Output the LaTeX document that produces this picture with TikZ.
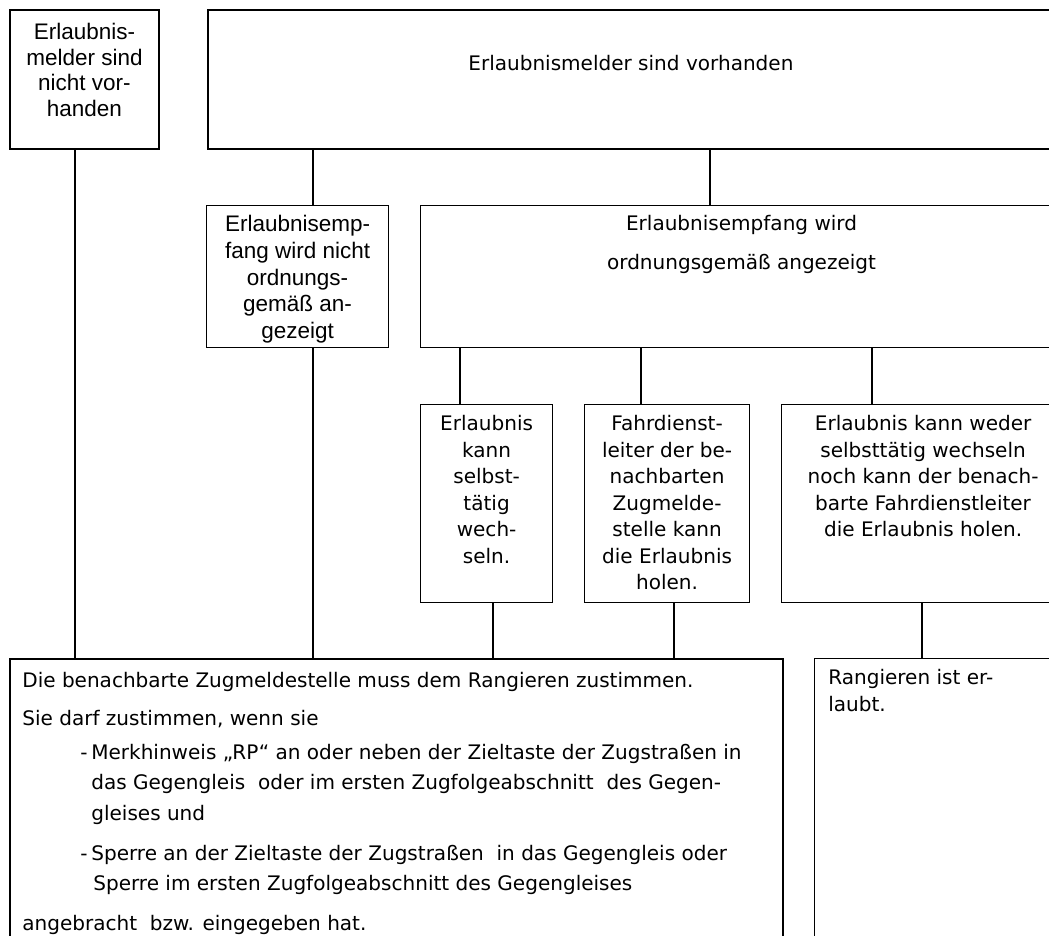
\documentclass[tikz,border=0pt]{standalone}
\usepackage{fontspec}
\setmainfont{DejaVu Sans}
\newfontfamily\arialfont{Liberation Sans}
\usepackage{tikz}
\usetikzlibrary{positioning}

\tikzset{
  box/.style={draw, anchor=north west, inner sep=0pt, line width=0.7pt},
  heavybox/.style={box, line width=1.1pt},
  boxtext/.style={inner sep=0pt, align=center, font={\fontsize{11.4pt}{15.1pt}\selectfont}},
  arialtext/.style={inner sep=0pt, align=center, font={\arialfont\fontsize{12.8pt}{15.2pt}\selectfont}},
  link/.style={line width=0.6pt},
  heavylink/.style={line width=1.1pt}
}

\begin{document}
\begin{tikzpicture}[x=0.02cm, y=-0.02cm]
    \useasboundingbox (0,0) rectangle (1049,936);
    \clip (0,0) rectangle (1049,936);

    % Erlaubnismelder
    \node[heavybox, minimum width=2.98cm, minimum height=2.78cm] (melderno) at (9,9) {};
    \node[heavybox, minimum width=16.92cm, minimum height=2.78cm] (melderja) at (207,9) {};

    % Erlaubnisempfang
    \node[box, minimum width=3.64cm, minimum height=2.84cm] (empfangno) at (206,205) {};
    \node[box, minimum width=12.84cm, minimum height=2.84cm] (empfangja) at (420,205) {};

    % Wechsel der Erlaubnis
    \node[box, minimum width=2.64cm, minimum height=3.96cm] (selbst) at (420,404) {};
    \node[box, minimum width=3.30cm, minimum height=3.96cm] (holen) at (584,404) {};
    \node[box, minimum width=5.66cm, minimum height=3.96cm] (weder) at (781,404) {};

    % Ergebnis
    \node[heavybox, minimum width=15.46cm, minimum height=6.4cm] (zustimmung) at (9,658) {};
    \node[box, minimum width=5.32cm, minimum height=6.4cm] (erlaubt) at (814,658) {};

    % Box texts
    \node[arialtext, font={\arialfont\fontsize{12.8pt}{14.5pt}\selectfont}, below=0.28cm of melderno.north] (melderno-text) {Erlaubnis-\\melder sind\\nicht vor-\\handen};
    \node[boxtext, below=0.92cm of melderja.north] (melderja-text) {Erlaubnismelder sind vorhanden};
    \node[arialtext, below=0.2cm of empfangno.north] (empfangno-text) {Erlaubnisemp-\\fang wird nicht\\ordnungs-\\gemäß an-\\gezeigt};
    \node[boxtext, font={\fontsize{11.4pt}{22pt}\selectfont}, below=0.2cm of empfangja.north] (empfangja-text) {Erlaubnisempfang wird\\ordnungsgemäß angezeigt};
    \node[boxtext, below=0.22cm of selbst.north] (selbst-text) {Erlaubnis\\kann\\selbst-\\tätig\\wech-\\seln.};
    \node[boxtext, below=0.22cm of holen.north] (holen-text) {Fahrdienst-\\leiter der be-\\nachbarten\\Zugmelde-\\stelle kann\\die Erlaubnis\\holen.};
    \node[boxtext, below=0.22cm of weder.north] (weder-text) {Erlaubnis kann weder\\selbsttätig wechseln\\noch kann der benach-\\barte Fahrdienstleiter\\die Erlaubnis holen.};
    \node[boxtext, align=left, font={\fontsize{11.4pt}{17pt}\selectfont}, below right=0.28cm and 0.26cm of zustimmung.north west] (zustimmung-text) {Die benachbarte Zugmeldestelle muss dem Rangieren zustimmen.\\[4.5pt]
      Sie darf zustimmen, wenn sie\\[2.3pt]
      \hspace*{1.16cm}\makebox[0.22cm][l]{-}Merkhinweis „RP“ an oder neben der Zieltaste der Zugstraßen in\\
      \hspace*{1.38cm}das Gegengleis~ oder im ersten Zugfolgeabschnitt~ des Gegen-\\[1.1pt]
      \hspace*{1.38cm}gleises und\\[5.7pt]
      \hspace*{1.16cm}\makebox[0.22cm][l]{-}Sperre an der Zieltaste der Zugstraßen~ in das Gegengleis oder\\
      \hspace*{1.42cm}Sperre im ersten Zugfolgeabschnitt des Gegengleises\\[5.7pt]
      angebracht~ bzw. eingegeben hat.};
    \node[boxtext, align=left, font={\fontsize{11.4pt}{15.3pt}\selectfont}, below right=0.22cm and 0.28cm of erlaubt.north west] (erlaubt-text) {Rangieren ist er-\\laubt.};

    % Connector columns
    \coordinate (col1) at (75,0);
    \coordinate (col2) at (313,0);
    \coordinate (col3) at (710,0);
    \coordinate (col4) at (460,0);
    \coordinate (col5) at (641,0);
    \coordinate (col6) at (872,0);
    \coordinate (col7) at (493,0);
    \coordinate (col8) at (674,0);
    \coordinate (col9) at (922,0);

    % Connectors
    \draw[link] (melderno.south -| col1) -- (zustimmung.north -| col1);
    \draw[heavylink] (melderja.south -| col2) -- (empfangno.north -| col2);
    \draw[heavylink] (empfangno.south -| col2) -- (zustimmung.north -| col2);
    \draw[link] (melderja.south -| col3) -- (empfangja.north -| col3);
    \draw[heavylink] (empfangja.south -| col4) -- (selbst.north -| col4);
    \draw[link] (empfangja.south -| col5) -- (holen.north -| col5);
    \draw[link] (empfangja.south -| col6) -- (weder.north -| col6);
    \draw[link] (selbst.south -| col7) -- (zustimmung.north -| col7);
    \draw[heavylink] (holen.south -| col8) -- (zustimmung.north -| col8);
    \draw[link] (weder.south -| col9) -- (erlaubt.north -| col9);
\end{tikzpicture}
\end{document}
